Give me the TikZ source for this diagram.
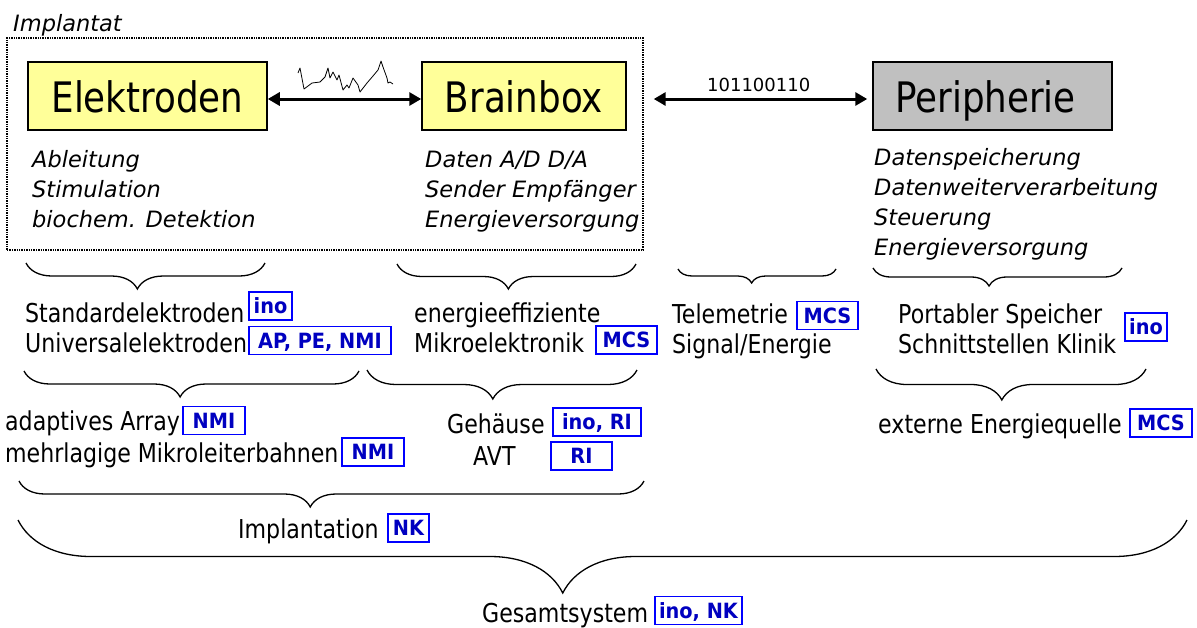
\documentclass[tikz,border=0pt]{standalone}
\usepackage{fontspec}
\setmainfont{DejaVu Sans}[FakeStretch=0.85]
\newfontfamily\plainface{DejaVu Sans}
\newfontfamily\tagface{DejaVu Sans}[FakeStretch=0.92]
\usetikzlibrary{arrows.meta,decorations.pathreplacing}
\definecolor{boxyellow}{HTML}{FFFF99}
\definecolor{boxgray}{HTML}{C0C0C0}
\definecolor{tagblue}{HTML}{0000FF}
\definecolor{tagtext}{HTML}{0000C0}

\begin{document}
\begin{tikzpicture}[
  x=1pt, y=-1pt,
  unit/.style={draw, line width=1.5pt, minimum width=239pt, minimum height=68pt,
               inner sep=0pt, text height=32pt, text depth=0pt,
               font={\fontsize{42}{48}\selectfont}},
  desc/.style={anchor=base west, inner sep=0pt, align=left,
               font={\plainface\itshape\fontsize{22.5}{30}\selectfont}},
  txt/.style={anchor=base west, inner sep=0pt, align=left,
              font={\fontsize{26}{30}\selectfont}},
  tag/.style={draw=tagblue, line width=1.3pt, text=tagtext, inner sep=0pt,
              minimum height=28pt, text height=15.5pt, text depth=0pt,
              font={\tagface\bfseries\fontsize{21}{24}\selectfont}},
  arr/.style={{Triangle[length=12pt,width=13pt]}-{Triangle[length=12pt,width=13pt]},
              line width=3pt},
  grp/.style={decorate, decoration={brace, mirror, aspect=0.466, amplitude=#1},
              line width=1.3pt},
]
\useasboundingbox (0,0) rectangle (1197,627);

% implant and its parts (multi-line texts sit on their last baseline)
\node[draw, densely dotted, line width=1.4pt, minimum width=636pt,
      minimum height=212pt] (impl) at (325,144) {};
\node[desc] (impllbl) at (13,31) {Implantat};
\node[unit, fill=boxyellow]                      (el) at (147.5,96) {Elektroden};
\node[unit, fill=boxyellow, minimum width=204pt] (bb) at (524,96)   {Brainbox};
\node[unit, fill=boxgray]                        (pe) at (992.5,96) {\hspace*{-14pt}Peripherie};

\node[desc] (eldesc) at (32,227)  {Ableitung\\Stimulation\\biochem. Detektion};
\node[desc] (bbdesc) at (425,227) {Daten A/D D/A\\Sender Empfänger\\Energieversorgung};
\node[desc] (pedesc) at (874,255) {Datenspeicherung\\Datenweiterverarbeitung\\Steuerung\\Energieversorgung};

% links
\draw[arr] ([yshift=-3pt]el.east) -- ([yshift=-3pt]bb.west);
\coordinate (pin) at ([yshift=-3pt]pe.west);
\draw[arr, shorten <=10pt, shorten >=5pt] (impl.east |- pin) -- (pin);
\node[anchor=base west, inner sep=0pt, font={\plainface\fontsize{18}{20}\selectfont}]
      (bits) at (707,91) {101100110};
\draw[line width=0.8pt, line join=round] plot coordinates {
  (298,73) (300,68) (304,89) (312,83) (320,82) (325,77) (328,68) (330,78)
  (333,72) (337,80) (339,75) (343,90) (347,85) (349,88) (353,78) (358,85)
  (360,92) (367,83) (373,76) (378,70) (381,61) (383,67) (387,78) (388,83)
  (390,82) (393,84)};

% braces
\draw[grp=26pt] (26,263) -- (265,263);
\draw[grp=25pt] (397,264) -- (636,264);
\draw[grp=14pt] (678,269) -- (836,269);
\draw[grp=18pt] (873,268) -- (1122,268);
\draw[grp=26pt] (24,371) -- (359,371);
\draw[grp=29pt] (367,370) -- (637,370);
\draw[grp=31pt] (876,369) -- (1146,369);
\draw[grp=26pt] (19,481) -- (644,481);
\draw[grp=73pt] (18,520) -- (1187,520);

% work packages
\node[txt] (std) at (25,352)  {Standardelektroden\\Universalelektroden};
\node[txt] (mik) at (414,352) {energieeffiziente\\Mikroelektronik};
\node[txt] (tel) at (672,353) {Telemetrie\\Signal/Energie};
\node[txt] (por) at (898,353) {Portabler Speicher\\Schnittstellen Klinik};
\node[txt, font={\fontsize{26}{32}\selectfont}] (ary) at (5,462)
      {adaptives Array\\mehrlagige Mikroleiterbahnen};
\node[txt] (geh)  at (447,433) {Gehäuse};
\node[txt] (avt)  at (473,465) {AVT};
\node[txt] (ext)  at (878,433) {externe Energiequelle};
\node[txt] (impt) at (238,538) {Implantation};
\node[txt] (ges)  at (482,622) {Gesamtsystem};

% partners
\node[tag, minimum width=43pt]  (tstd)  at (270.5,306) {ino};
\node[tag, minimum width=142pt] (tuni)  at (320,340.5) {AP, PE, NMI};
\node[tag, minimum width=61pt]  (tmik)  at (626.5,340) {MCS};
\node[tag, minimum width=61pt]  (ttel)  at (827.5,315.5) {MCS};
\node[tag, minimum width=42pt]  (tpor)  at (1146,327) {ino};
\node[tag, minimum width=62pt]  (tary)  at (214,420.5) {NMI};
\node[tag, minimum width=62pt]  (tmlb)  at (373,452) {NMI};
\node[tag, minimum width=88pt]  (tgeh)  at (597,422) {ino, RI};
\node[tag, minimum width=61pt]  (tavt)  at (581.5,456) {RI};
\node[tag, minimum width=62pt]  (text)  at (1161,423) {MCS};
\node[tag, minimum width=41pt]  (timpt) at (408.5,528) {NK};
\node[tag, minimum width=87pt]  (tges)  at (698.5,610.5) {ino, NK};
\end{tikzpicture}
\end{document}
